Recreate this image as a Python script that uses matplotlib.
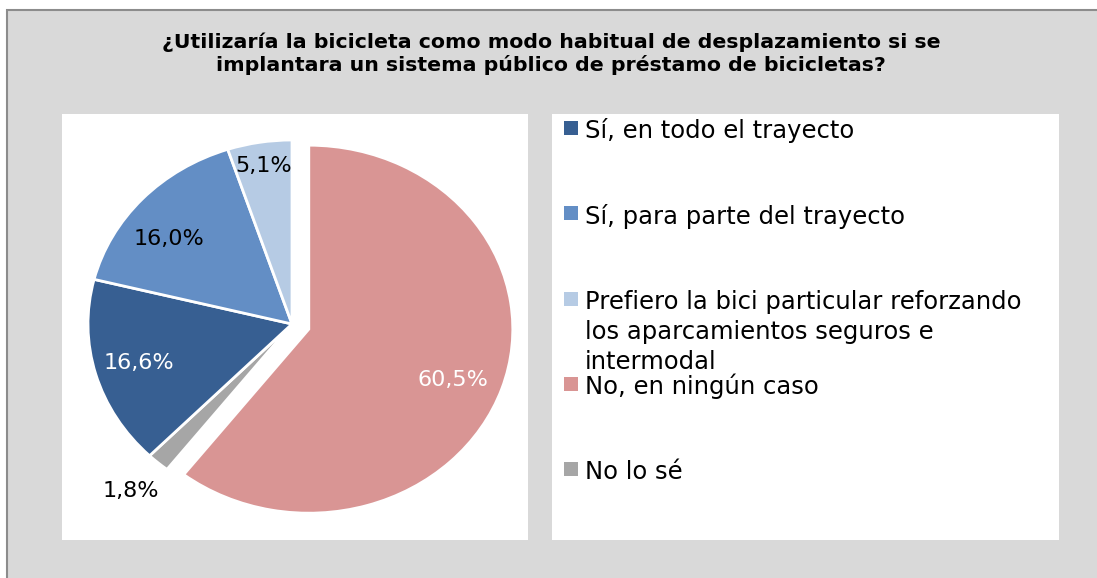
import numpy as np
import matplotlib
matplotlib.use("Agg")
import matplotlib.pyplot as plt
from matplotlib.patches import Rectangle

# Data (legend order)
labels = [
    "Sí, en todo el trayecto",
    "Sí, para parte del trayecto",
    "Prefiero la bici particular reforzando\nlos aparcamientos seguros e\nintermodal",
    "No, en ningún caso",
    "No lo sé",
]
values = [16.6, 16.0, 5.1, 60.5, 1.8]
colors = ["#375f92", "#638ec5", "#b6cbe4", "#d99594", "#a6a6a6"]
title = ("¿Utilizaría la bicicleta como modo habitual de desplazamiento si se\n"
         "implantara un sistema público de préstamo de bicicletas?")

# order in which slices are drawn clockwise from 12 o'clock
pie_order = [3, 4, 0, 1, 2]
explode = {3: 0.087}
label_dist = {3: 0.76, 4: 1.2, 0: 0.78, 1: 0.76, 2: 0.87}
label_turn = {3: -2.5, 4: 0, 0: 0, 1: 5.5, 2: 0}  # degrees
label_color = {3: "white", 4: "black", 0: "white", 1: "black", 2: "black"}

W, H = 1097, 578
plt.rcParams['font.family'] = ['DejaVu Sans']
fig = plt.figure(figsize=(W / 100, H / 100), dpi=100)
fig.patch.set_facecolor("white")


def box(x0, y0, x1, y1):
    # pixel box (top-left origin) -> figure fraction rect
    return [x0 / W, 1 - y1 / H, (x1 - x0) / W, (y1 - y0) / H]


# grey chart area with border on top/left
fig.patches.append(Rectangle((6.5 / W, -0.02), 1.05, 1 - 9.5 / H + 0.02,
                             transform=fig.transFigure, facecolor="#d9d9d9",
                             edgecolor="#8c8c8c", lw=1.5, zorder=-1))

fig.text(551 / W, 1 - 54 / H, title, ha="center", va="center", fontsize=14.75,
         fontweight="bold", linespacing=1.2)

# pie
ax = fig.add_axes(box(62, 114, 528, 540))
wedges, _, autotexts = ax.pie(
    [values[i] for i in pie_order],
    colors=[colors[i] for i in pie_order],
    explode=[explode.get(i, 0) for i in pie_order],
    startangle=90, counterclock=False,
    autopct=lambda p: f"{p:.1f}%".replace(".", ","),
    wedgeprops=dict(edgecolor="white", linewidth=2),
    textprops=dict(fontsize=16),
)
for w, t, i in zip(wedges, autotexts, pie_order):
    mid = np.radians((w.theta1 + w.theta2) / 2 + label_turn[i])
    d = label_dist[i] * w.r
    t.set_position((w.center[0] + d * np.cos(mid), w.center[1] + d * np.sin(mid)))
    t.set_color(label_color[i])

ax.set_aspect("auto")
ax.set_xlim((62 - 292) / 204, (528 - 292) / 204)
ax.set_ylim((324 - 540) / 184, (324 - 114) / 184)
ax.set_frame_on(True)
for s in ax.spines.values():
    s.set_visible(False)
ax.set_facecolor("white")

# legend (axes units = pixels from the top-left of the legend box)
lax = fig.add_axes(box(552, 114, 1059, 540))
lax.set_xlim(0, 507)
lax.set_ylim(426, 0)
lax.set_xticks([])
lax.set_yticks([])
for s in lax.spines.values():
    s.set_visible(False)
lax.set_facecolor("white")
for k, (lab, col) in enumerate(zip(labels, colors)):
    top = 7 + k * 85.25
    lax.add_patch(Rectangle((12, top), 14, 14, facecolor=col, edgecolor="none"))
    for j, line in enumerate(lab.split("\n")):
        lax.text(33, top + 17.3 + j * 30, line, ha="left", va="baseline",
                 fontsize=17.5, color="black")

plt.savefig("out.png", dpi=100, facecolor=fig.get_facecolor())
